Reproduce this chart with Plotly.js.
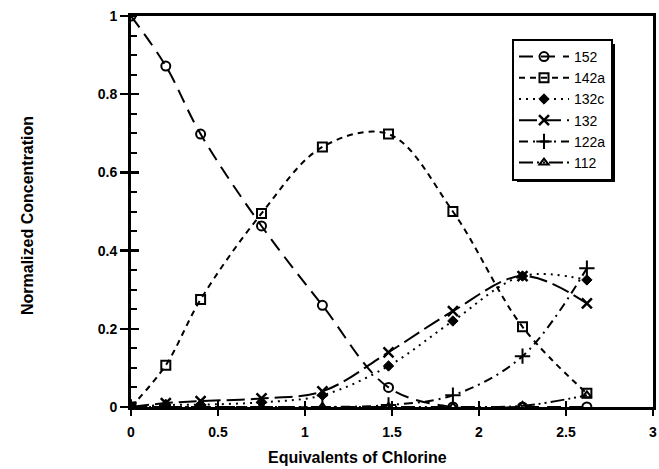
<!DOCTYPE html>
<html>
<head>
<meta charset="utf-8">
<script src="https://cdn.plot.ly/plotly-3.0.1.min.js"></script>
<style>
html,body{margin:0;padding:0;background:#fff;}
#chart{width:659px;height:469px;}
</style>
</head>
<body>
<div id="chart"></div>
<script>
// Equivalents of chlorine (x)
var equivalents = [0, 0.2, 0.4, 0.75, 1.1, 1.48, 1.85, 2.25, 2.62];
// Normalized concentrations
var c152  = [1.0, 0.872, 0.698, 0.463, 0.26, 0.05, 0.0, 0.0, 0.0];
var c142a = [0.0, 0.107, 0.275, 0.495, 0.665, 0.698, 0.5, 0.205, 0.035];
var c132c = [0.0, 0.005, 0.006, 0.012, 0.03, 0.105, 0.22, 0.335, 0.325];
var c132  = [0.0, 0.01, 0.015, 0.022, 0.04, 0.14, 0.245, 0.335, 0.265];
var c122a = [0.0, 0.0, 0.0, 0.0, 0.0, 0.005, 0.03, 0.13, 0.355];
var c112  = [0.0, 0.0, 0.0, 0.0, 0.0, 0.0, 0.0, 0.003, 0.03];
var seriesNames = ['152', '142a', '132c', '132', '122a', '112'];
var xTickVals = [0, 0.5, 1, 1.5, 2, 2.5, 3];
var xTickText = ['0', '0.5', '1', '1.5', '2', '2.5', '3'];
var yTickVals = [0, 0.2, 0.4, 0.6, 0.8, 1];
var yTickText = ['0', '0.2', '0.4', '0.6', '0.8', '1'];

function bold(arr) { return arr.map(function (s) { return '<b>' + s + '</b>'; }); }

function mk(y, name, dash, symbol, size, lw) {
  return {
    x: equivalents, y: y, name: name, type: 'scatter', mode: 'lines+markers',
    line: {color: '#000', width: 2, dash: dash, shape: 'spline', smoothing: 1},
    marker: {symbol: symbol, size: size, color: '#000', line: {color: '#000', width: lw}},
    cliponaxis: true
  };
}
var data = [
  mk(c152, seriesNames[0], '14px,8px', 'circle-open', 9, 2),
  mk(c142a, seriesNames[1], '6px,5px', 'square-open', 9, 2),
  mk(c132c, seriesNames[2], '2px,5px', 'diamond', 8, 1),
  mk(c132, seriesNames[3], '18px,6px', 'x-thin', 10, 2.5),
  mk(c122a, seriesNames[4], '9px,5px,2px,5px', 'cross-thin', 11, 2),
  mk(c112, seriesNames[5], '14px,4px,2px,4px,2px,4px', 'triangle-up-open', 8, 2),
  {x: [], y: [], xaxis: 'x2', yaxis: 'y2', showlegend: false, type: 'scatter'}
];

var FAM = 'Liberation Sans, Arial, Helvetica, sans-serif';
var tickFont = {family: FAM, size: 14, color: '#000'};
// paper coordinate helpers for the legend frame (px -> paper)
function px(xp) { return (xp - 131) / 522; }
function py(yp) { return (407 - yp) / 391; }
var layout = {
  width: 659, height: 469,
  margin: {l: 131, r: 6, t: 16, b: 62, pad: 0},
  paper_bgcolor: '#fff', plot_bgcolor: '#fff',
  showlegend: true,
  legend: {
    x: px(512), y: py(39), xanchor: 'left', yanchor: 'top',
    bordercolor: '#000', borderwidth: 2, bgcolor: '#fff',
    font: {family: FAM, size: 14, color: '#000'},
    itemwidth: 50, tracegroupgap: 0
  },
  shapes: [
    // drop shadow of the legend frame
    {type: 'rect', xref: 'paper', yref: 'paper', x0: px(517), x1: px(615), y0: py(182), y1: py(44),
     fillcolor: '#000', line: {width: 0}, layer: 'above'}
  ],
  xaxis: {
    range: [0, 3], tickvals: xTickVals, ticktext: bold(xTickText),
    ticks: 'outside', ticklen: 6, tickwidth: 2.5, tickcolor: '#000',
    showline: true, linewidth: 3, linecolor: '#000', mirror: true,
    showgrid: false, zeroline: false, tickfont: tickFont, ticklabelstandoff: 4
  },
  yaxis: {
    range: [0, 1], tickvals: yTickVals, ticktext: bold(yTickText),
    ticks: 'outside', ticklen: 8, tickwidth: 2.5, tickcolor: '#000',
    showline: true, linewidth: 3, linecolor: '#000', mirror: true,
    showgrid: false, zeroline: false, tickfont: tickFont,
    minor: {dtick: 0.05, ticks: 'inside', ticklen: 6, tickwidth: 2, tickcolor: '#000', showgrid: false}
  },
  xaxis2: {
    overlaying: 'x', anchor: 'y2', range: [0, 3], tickvals: xTickVals, showticklabels: false,
    ticks: 'inside', ticklen: 6, tickwidth: 2.5, tickcolor: '#000',
    showline: false, showgrid: false, zeroline: false
  },
  yaxis2: {
    overlaying: 'y', anchor: 'x2', range: [0, 1], tickvals: yTickVals, showticklabels: false,
    ticks: 'inside', ticklen: 8, tickwidth: 2.5, tickcolor: '#000',
    showline: false, showgrid: false, zeroline: false
  },
  annotations: [
    {text: '<b>Equivalents of Chlorine</b>', xref: 'paper', yref: 'paper', x: 0.433, y: -0.128,
     xanchor: 'center', yanchor: 'middle', showarrow: false,
     font: {family: FAM, size: 16, color: '#000'}},
    {text: '<b>Normalized Concentration</b>', xref: 'paper', yref: 'paper', x: -0.198, y: 0.49,
     xanchor: 'center', yanchor: 'middle', showarrow: false, textangle: -90,
     font: {family: FAM, size: 16, color: '#000'}}
  ]
};
Plotly.newPlot('chart', data, layout, {displayModeBar: false, staticPlot: true});
</script>
</body>
</html>
